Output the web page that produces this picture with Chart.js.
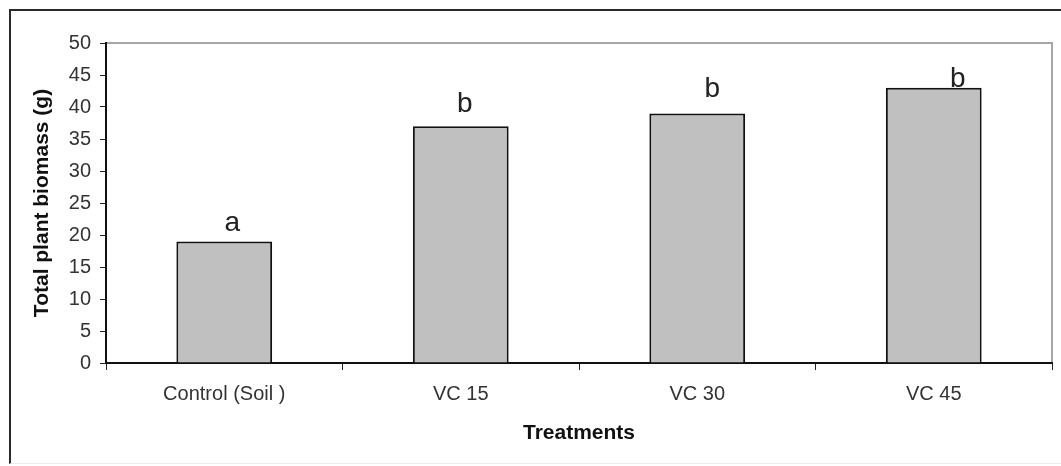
<!DOCTYPE html>
<html>
<head>
<meta charset="utf-8">
<script src="https://cdn.jsdelivr.net/npm/chart.js@4/dist/chart.umd.min.js"></script>
<style>
  html, body { margin: 0; padding: 0; background: #fff; }
  #frame {
    position: absolute; left: 9px; top: 9px; width: 1100px; height: 452px;
    border-left: 2px solid #2a2a2a; border-top: 2px solid #2a2a2a;
    border-bottom: 1px solid #ececec;
  }
  #wrap { position: absolute; left: 0; top: 0; width: 1061px; height: 466px; }
</style>
</head>
<body>
<div id="frame"></div>
<div id="wrap"><canvas id="biomassChart" width="1061" height="466"></canvas></div>
<script>
// ---- data ----
const treatments = ['Control (Soil )', 'VC 15', 'VC 30', 'VC 45'];
const biomass = [19, 37, 39, 43];
const groupLetters = ['a', 'b', 'b', 'b'];
const yTicks = [0, 5, 10, 15, 20, 25, 30, 35, 40, 45, 50];

// letter placement nudges (px) – style only
const letterDx = [8, 4, 15, 24];
const letterDy = [10, 14, 16, 1];

const FONT = 'Arial, "Liberation Sans", sans-serif';

// gray frame on top/right of plot area
const plotFrame = {
  id: 'plotFrame',
  beforeDraw(chart) {
    const { ctx, chartArea: a } = chart;
    ctx.save();
    ctx.strokeStyle = '#a6a6a6';
    ctx.lineWidth = 2;
    ctx.beginPath();
    ctx.moveTo(a.left, a.top);
    ctx.lineTo(a.right, a.top);
    ctx.lineTo(a.right, a.bottom);
    ctx.stroke();
    ctx.restore();
  }
};

// significance letters above bars
const letterLabels = {
  id: 'letterLabels',
  afterDatasetsDraw(chart) {
    const { ctx } = chart;
    const meta = chart.getDatasetMeta(0);
    ctx.save();
    ctx.font = '28px ' + FONT;
    ctx.fillStyle = '#222';
    ctx.textAlign = 'center';
    ctx.textBaseline = 'alphabetic';
    meta.data.forEach((bar, i) => {
      ctx.fillText(groupLetters[i], bar.x + letterDx[i], bar.y - letterDy[i]);
    });
    ctx.restore();
  }
};

new Chart(document.getElementById('biomassChart'), {
  type: 'bar',
  data: {
    labels: treatments,
    datasets: [{
      data: biomass,
      backgroundColor: '#c0c0c0',
      borderColor: '#111',
      borderWidth: 2,
      categoryPercentage: 1,
      barPercentage: 0.405
    }]
  },
  options: {
    responsive: false,
    animation: false,
    layout: { padding: { top: 43, right: 9, left: 0, bottom: 0 } },
    plugins: { legend: { display: false }, tooltip: { enabled: false } },
    scales: {
      x: {
        afterFit(scale) { scale.height = 103; },
        grid: { drawOnChartArea: false, drawTicks: true, tickLength: 7, color: '#222', offset: true },
        border: { color: '#111', width: 2 },
        ticks: { color: '#333', font: { family: FONT, size: 20 }, padding: 12 },
        title: {
          display: true, text: 'Treatments', color: '#111',
          font: { family: FONT, size: 21, weight: 'bold' },
          padding: { top: 0, bottom: 20 }
        }
      },
      y: {
        min: 0, max: 50,
        afterFit(scale) { scale.width = 106; },
        afterBuildTicks(scale) { scale.ticks = yTicks.map(v => ({ value: v })); },
        grid: { drawOnChartArea: false, drawTicks: true, tickLength: 6, color: '#222' },
        border: { color: '#111', width: 2 },
        ticks: { color: '#333', font: { family: FONT, size: 20 }, padding: 9 },
        title: {
          display: true, text: 'Total plant biomass (g)', color: '#111',
          font: { family: FONT, size: 21, weight: 'bold' },
          padding: { top: 30, bottom: 0 }
        }
      }
    }
  },
  plugins: [plotFrame, letterLabels]
});
</script>
</body>
</html>
